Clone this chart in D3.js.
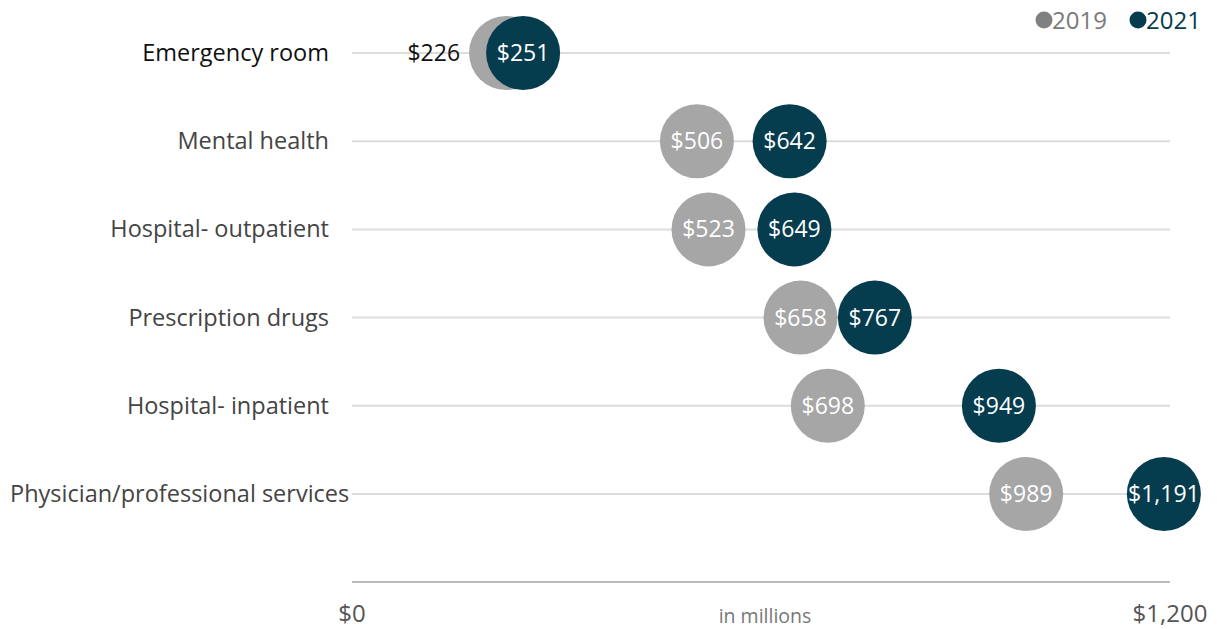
<!DOCTYPE html>
<html>
<head>
<meta charset="utf-8">
<script src="https://cdn.jsdelivr.net/npm/d3@7"></script>
<style>
  body { margin: 0; background: #fff; font-family: "Open Sans", "Noto Sans", sans-serif; }
  svg text { font-family: "Open Sans", "Noto Sans", sans-serif; }
</style>
</head>
<body>
<div id="chart"></div>
<script>
// Data
const categories = ["Emergency room", "Mental health", "Hospital- outpatient", "Prescription drugs", "Hospital- inpatient", "Physician/professional services"];
const values2019 = [226, 506, 523, 658, 698, 989];
const values2021 = [251, 642, 649, 767, 949, 1191];
const xTicks = [0, 1200];
const seriesNames = ["2019", "2021"];

const W = 1217, H = 629;
const grey = "#a6a6a6", dark = "#053c4e";

const svg = d3.select("#chart").append("svg")
    .attr("width", W).attr("height", H);

// Scales
const x = d3.scaleLinear().domain([0, 1200]).range([352, 1170]);
const y = d3.scalePoint().domain(categories).range([53, 494]);
const r = 37;

// Gridlines for each row
svg.selectAll(".grid")
    .data(categories)
    .enter().append("line")
    .attr("x1", x(0)).attr("x2", x(1200))
    .attr("y1", d => y(d)).attr("y2", d => y(d))
    .attr("stroke", "#dddddd").attr("stroke-width", 2);

// Axis line
svg.append("line")
    .attr("x1", x(0)).attr("x2", x(1200))
    .attr("y1", 582).attr("y2", 582)
    .attr("stroke", "#bbbbbb").attr("stroke-width", 2);

svg.selectAll(".tick-label")
    .data(xTicks)
    .enter().append("text")
    .attr("x", d => x(d))
    .attr("y", 622)
    .attr("text-anchor", "middle")
    .attr("fill", "#555")
    .style("font-size", "24px")
    .text(d => "$" + d3.format(",")(d));

svg.append("text")
    .attr("x", 765).attr("y", 623)
    .attr("text-anchor", "middle")
    .attr("fill", "#777")
    .style("font-size", "19.5px")
    .text("in millions");

// Category labels (right aligned, but never starting left of x=10)
svg.selectAll(".cat")
    .data(categories)
    .enter().append("text")
    .attr("y", d => y(d) + 8)
    .attr("fill", (d, i) => i === 0 ? "#111" : "#444")
    .style("font-size", "23.5px")
    .text(d => d)
    .each(function () {
        const w = this.getComputedTextLength();
        d3.select(this).attr("x", Math.max(10, 329 - w));
    });

const rows = categories.map((c, i) => ({ c, v19: values2019[i], v21: values2021[i] }));
const overlap = d => x(d.v21) - x(d.v19) < 2 * r;

// 2019 circles
svg.selectAll(".c19")
    .data(rows)
    .enter().append("circle")
    .attr("cx", d => x(d.v19)).attr("cy", d => y(d.c))
    .attr("r", r).attr("fill", grey);

// 2021 circles
svg.selectAll(".c21")
    .data(rows)
    .enter().append("circle")
    .attr("cx", d => x(d.v21)).attr("cy", d => y(d.c))
    .attr("r", r).attr("fill", dark);

// Labels: 2019 inside unless overlapping, then to the left
svg.selectAll(".l19")
    .data(rows)
    .enter().append("text")
    .attr("x", d => overlap(d) ? x(d.v19) - r - 9 : x(d.v19))
    .attr("y", d => y(d.c) + 8)
    .attr("text-anchor", d => overlap(d) ? "end" : "middle")
    .attr("fill", d => overlap(d) ? "#111" : "#fff")
    .style("font-size", "23px")
    .text(d => "$" + d3.format(",")(d.v19));

svg.selectAll(".l21")
    .data(rows)
    .enter().append("text")
    .attr("x", d => x(d.v21))
    .attr("y", d => y(d.c) + 8)
    .attr("text-anchor", "middle")
    .attr("fill", "#fff")
    .style("font-size", "23px")
    .text(d => "$" + d3.format(",")(d.v21));

// Legend
const legend = svg.append("g");
const legendX = [1044, 1138];
const legendColors = ["#808080", dark];
const legendText = ["#7a7a7a", dark];
seriesNames.forEach((s, i) => {
    legend.append("circle")
        .attr("cx", legendX[i]).attr("cy", 20).attr("r", 8.5)
        .attr("fill", legendColors[i]);
    legend.append("text")
        .attr("x", legendX[i] + 8).attr("y", 29)
        .attr("fill", legendText[i])
        .style("font-size", "24px")
        .text(s);
});
</script>
</body>
</html>
